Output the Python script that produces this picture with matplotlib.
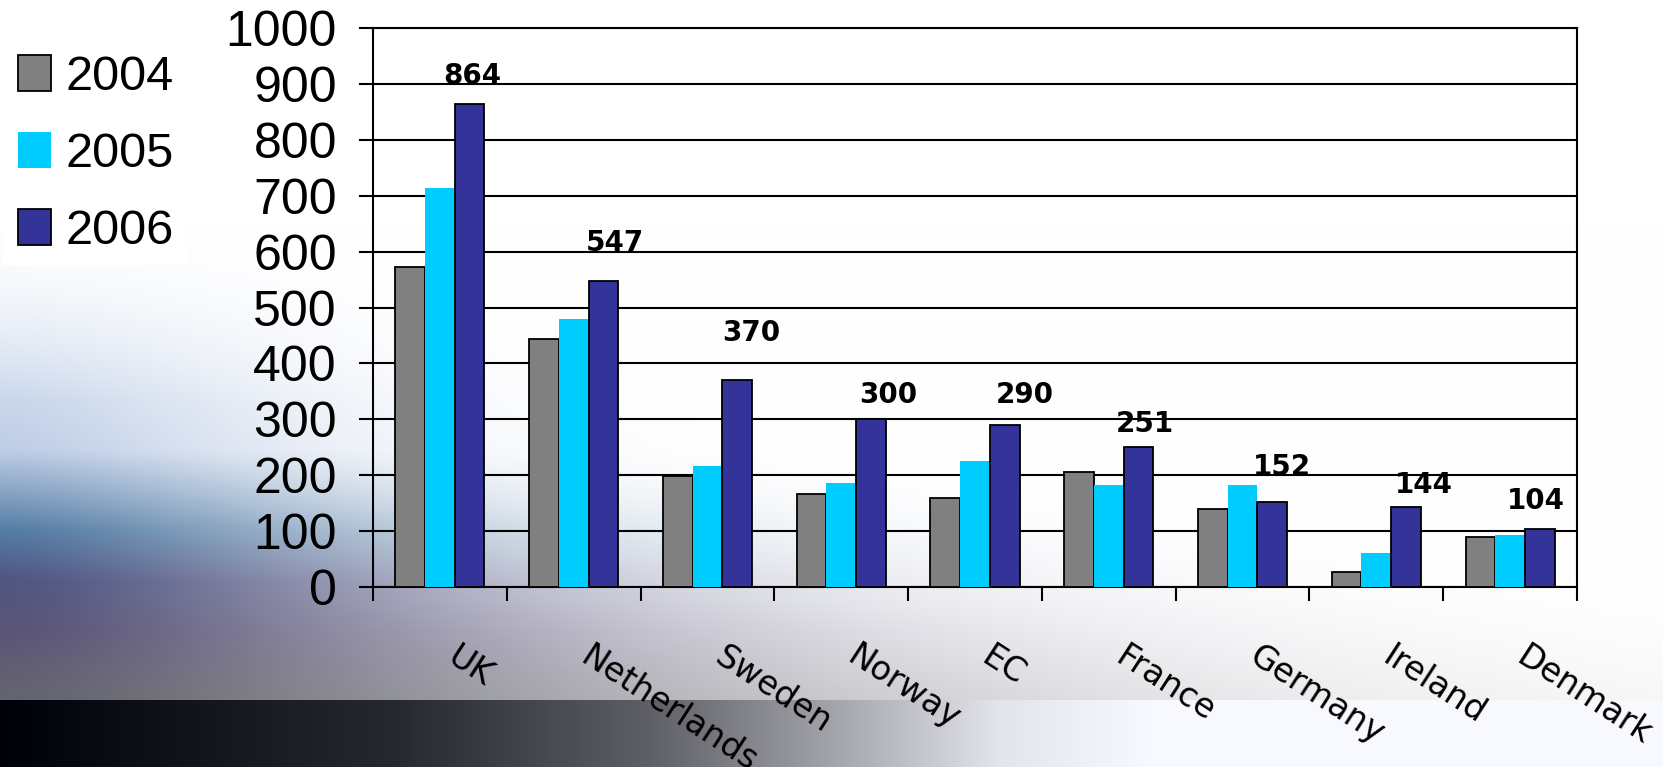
import matplotlib

matplotlib.use("Agg")

import matplotlib.pyplot as plt
import numpy as np
from matplotlib.patches import Patch, Rectangle
from matplotlib.transforms import ScaledTranslation

# --- data -------------------------------------------------------------------
countries = ["UK", "Netherlands", "Sweden", "Norway", "EC", "France",
             "Germany", "Ireland", "Denmark"]
years = ["2004", "2005", "2006"]
v2004 = [573, 443, 198, 167, 160, 205, 139, 27, 89]
v2005 = [713, 479, 217, 186, 226, 183, 183, 61, 93]
v2006 = [864, 547, 370, 300, 290, 251, 152, 144, 104]

# --- style ------------------------------------------------------------------
COLORS = ["#808080", "#00CCFF", "#333399"]
EDGES = ["black", "none", "black"]
W_PX, H_PX, DPI = 1663, 767, 100
# label nudges (pixels) to sit where the original put them
label_dx = [3, 12, 14, 17, 20, 6, 10, 18, -4]
label_dy = [28, 38, 47, 24, 30, 23, 35, 22, 28]


def _background(h: int, w: int) -> np.ndarray:
    """Slide-style backdrop: white, bluish haze bottom-left, dark band."""
    yy, xx = np.mgrid[0:h, 0:w].astype(float)
    img = np.ones((h, w, 3))
    ys = [250, 450, 530, 580, 630, 690]
    cols = np.array([[235, 242, 250], [190, 205, 230], [85, 125, 165],
                     [80, 85, 130], [90, 85, 120], [100, 100, 112]]) / 255.0
    haze = np.stack([np.interp(yy, ys, cols[:, c]) for c in range(3)], -1)
    L = np.interp(yy, [250, 450, 600, 698], [230, 300, 560, 800])
    s = np.exp(-(xx / L) ** 1.5) * np.clip((yy - 220) / 180, 0, 1)
    img = img * (1 - s[..., None]) + haze * s[..., None]
    band = yy >= 700
    g = np.interp(xx, [0, 120, 400, 650, 850, 1000, 1150],
                  [0, 12, 40, 95, 170, 228, 248]) / 255.0
    bandc = np.stack([g, g, np.clip(g + 0.03, 0, 1)], -1)
    img[band] = bandc[band]
    return np.clip(img, 0, 1)


fig = plt.figure(figsize=(W_PX / DPI, H_PX / DPI), dpi=DPI)
bg = fig.add_axes([0, 0, 1, 1], zorder=-10)
bg.imshow(_background(H_PX, W_PX), aspect="auto", interpolation="bilinear")
bg.axis("off")

left, right, top, bottom = 373, 1577, 28, 587
ax = fig.add_axes([left / W_PX, 1 - bottom / H_PX,
                   (right - left) / W_PX, (bottom - top) / H_PX])
ax.set_facecolor("none")

n = len(countries)
bw = 1 / 4.5  # Excel gap width 150%
x = np.arange(n) + 0.5
series = [v2004, v2005, v2006]
for k, vals in enumerate(series):
    ax.bar(x + (k - 1) * bw, vals, width=bw, color=COLORS[k],
           edgecolor=EDGES[k], linewidth=1.3, zorder=3)

for i, v in enumerate(v2006):
    ax.annotate(f"{v}", xy=(x[i] + bw, v), xytext=(label_dx[i], label_dy[i]),
                textcoords="offset pixels", ha="center", va="center",
                fontsize=20, fontweight="bold", family="DejaVu Sans",
                color="black", zorder=5)

ax.set_xlim(0, n)
ax.set_ylim(0, 1000)
ax.set_yticks(np.arange(0, 1001, 100))
ax.yaxis.grid(True, color="black", lw=1.5, zorder=1)
ax.set_axisbelow(True)
for sp in ax.spines.values():
    sp.set_color("black")
    sp.set_linewidth(1.5)

ax.tick_params(axis="y", direction="out", length=10, width=1.5, pad=16,
               labelsize=36)
for t in ax.get_yticklabels():
    t.set_family("Liberation Sans")

# boundary ticks below the axis, labels at the category centres
ax.set_xticks(np.arange(n + 1), minor=True)
ax.tick_params(axis="x", which="minor", direction="out", length=10, width=1.5)
ax.set_xticks(x)
ax.set_xticklabels(countries, rotation=-33, ha="left", va="top",
                   rotation_mode="anchor", family="DejaVu Sans", fontsize=24)
ax.tick_params(axis="x", which="major", length=0, pad=38)
shift = ScaledTranslation(19 / DPI, 0, fig.dpi_scale_trans)
for t in ax.get_xticklabels():
    t.set_transform(t.get_transform() + shift)

# white legend panel in the top-left corner
fig.add_artist(Rectangle((3 / W_PX, 1 - 265 / H_PX), 184 / W_PX, 265 / H_PX,
                         transform=fig.transFigure, facecolor="white",
                         edgecolor="none", zorder=1))
handles = [Patch(facecolor=COLORS[k], edgecolor=EDGES[k], linewidth=1.3,
                 label=years[k]) for k in range(3)]
leg = fig.legend(handles=handles, loc="upper left",
                 bbox_to_anchor=(18 / W_PX, 1 - 55 / H_PX), frameon=False,
                 prop={"family": "Liberation Sans", "size": 35},
                 handlelength=0.68, handleheight=0.75, handletextpad=0.3,
                 labelspacing=0.66, borderpad=0.0, borderaxespad=0)
leg.set_zorder(2)

fig.savefig("out.png", dpi=DPI)
